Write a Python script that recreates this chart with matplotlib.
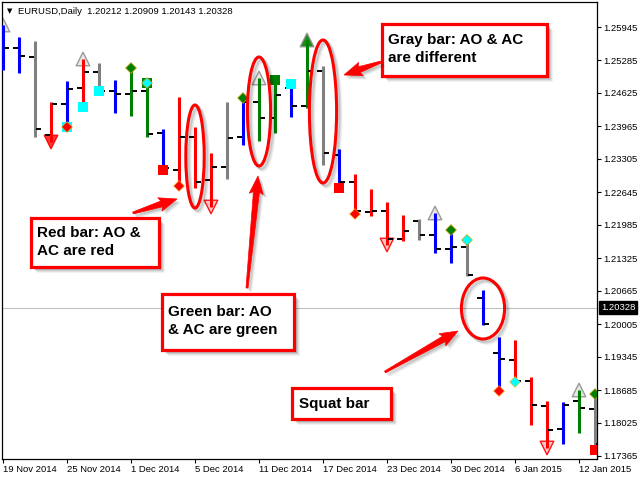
import matplotlib
matplotlib.use('Agg')
import matplotlib.pyplot as plt
from matplotlib.patches import Ellipse, Rectangle, Polygon
from matplotlib.transforms import blended_transform_factory
import numpy as np

# ---------------- data ----------------
tick_labels = ["19 Nov 2014", "25 Nov 2014", "1 Dec 2014", "5 Dec 2014", "11 Dec 2014",
               "17 Dec 2014", "23 Dec 2014", "30 Dec 2014", "6 Jan 2015", "12 Jan 2015"]
tick_bars = [0, 4, 8, 12, 16, 20, 24, 28, 32, 36]

opens = [1.25685, 1.25525, 1.25345, 1.23785, 1.24405, 1.24725, 1.25045, 1.24665, 1.24605, 1.24665,
         1.23825, 1.23085, 1.23745, 1.22885, 1.23145, 1.23745, 1.24445, 1.24125, 1.24725, 1.24365,
         1.25065, 1.23385, 1.22845, 1.22245, 1.22265, 1.21705, 1.22065, 1.21785, 1.21505, 1.21545,
         1.20525, 1.19425, 1.19285, 1.18865, 1.18365, 1.17905, 1.18465, 1.18305]
highs = [1.25985, 1.25745, 1.25665, 1.24445, 1.24865, 1.25305, 1.25225, 1.24885, 1.25125, 1.24825,
         1.23905, 1.24545, 1.23945, 1.23425, 1.24445, 1.24525, 1.24925, 1.24885, 1.24805, 1.25685,
         1.25165, 1.23505, 1.23005, 1.22705, 1.22445, 1.22185, 1.22105, 1.22225, 1.21885, 1.21685,
         1.20685, 1.19745, 1.19685, 1.18945, 1.18465, 1.18445, 1.18685, 1.18605]
lows = [1.25085, 1.25025, 1.23745, 1.23645, 1.23945, 1.24345, 1.24665, 1.24225, 1.24165, 1.23745,
        1.23085, 1.22765, 1.22725, 1.22345, 1.22905, 1.23585, 1.23665, 1.23825, 1.24145, 1.24325,
        1.23185, 1.22725, 1.22205, 1.22165, 1.21585, 1.21665, 1.21685, 1.21425, 1.21225, 1.20965,
        1.19985, 1.18665, 1.18845, 1.17985, 1.17525, 1.17605, 1.17825, 1.17485]
closes = [1.25525, 1.25365, 1.23905, 1.24405, 1.24705, 1.25045, 1.24665, 1.24605, 1.24665, 1.23805,
          1.23125, 1.23745, 1.22845, 1.23145, 1.23725, 1.24445, 1.24125, 1.24585, 1.24365, 1.25065,
          1.23425, 1.22845, 1.22265, 1.22265, 1.21705, 1.21865, 1.21785, 1.21505, 1.21545, 1.20985,
          1.20005, 1.19305, 1.18865, 1.18385, 1.17885, 1.18385, 1.18325, 1.17600]
bar_colors = ['blue', 'blue', 'gray', 'red', 'blue', 'red', 'gray', 'blue', 'green', 'green',
              'blue', 'red', 'red', 'red', 'gray', 'blue', 'green', 'green', 'blue', 'green',
              'gray', 'blue', 'red', 'red', 'red', 'red', 'gray', 'blue', 'blue', 'gray',
              'blue', 'blue', 'red', 'red', 'red', 'blue', 'green', 'gray']

up_fractals = [0, 5, 16, 19, 27, 36]
up_fractal_fill = ['#e6e6e6', '#e6e6e6', '#e6e6e6', '#008000', '#e6e6e6', '#e6e6e6']
down_fractals = [3, 13, 24, 34]
down_fractal_fill = ['#ff2020', '#ffc0c0', '#ffc0c0', '#ffc0c0']

high_squares = [9, 17, 18]
high_square_colors = ['green', 'green', 'cyan']
low_squares = [4, 5, 6, 10, 21, 37]
low_square_colors = ['cyan', 'cyan', 'cyan', 'red', 'red', 'red']
high_diamonds = [8, 9, 15, 28, 29, 37]
high_diamond_colors = ['green', 'cyan', 'green', 'green', 'cyan', 'green']
low_diamonds = [4, 11, 22, 31, 32]
low_diamond_colors = ['red', 'red', 'red', 'red', 'cyan']

y_ticks = [1.25945, 1.25285, 1.24625, 1.23965, 1.23305, 1.22645, 1.21985, 1.21325,
           1.20665, 1.20005, 1.19345, 1.18685, 1.18025, 1.17365]
current_price = 1.20328
header = "EURUSD,Daily  1.20212 1.20909 1.20143 1.20328"

ellipse_bars = [12, 16, 20, 30]
ellipse_centers = [1.23355, 1.24255, 1.24255, 1.20315]

# ---------------- style ----------------
cmap = {'blue': '#0000ff', 'gray': '#808080', 'red': '#ff0000', 'green': '#008000', 'cyan': '#00ffff'}
FONT = 'Liberation Sans'
plt.rcParams['font.family'] = [FONT, 'DejaVu Sans']

fig = plt.figure(figsize=(6.4, 4.8), dpi=100)
ax = fig.add_axes([2/640, 21/480, 595/640, 457/480])
ax.set_xlim(-1/16, 594/16)
ax.set_ylim(1.17305, 1.26445)

x = np.arange(len(opens))
cols = [cmap[c] for c in bar_colors]

ax.axhline(current_price, color='#c0c0c0', lw=0.8, zorder=1)
ax.vlines(x, lows, highs, colors=cols, lw=2.2, zorder=3)
ax.hlines(opens, x - 0.36, x - 0.08, colors='black', lw=1.4, zorder=3)
ax.hlines(closes, x + 0.08, x + 0.36, colors='black', lw=1.4, zorder=3)

# squares & diamonds
ax.scatter(high_squares, [highs[i] for i in high_squares], marker='s', s=46,
           c=[cmap[c] for c in high_square_colors], zorder=4, linewidths=0)
ax.scatter(low_squares, [lows[i] for i in low_squares], marker='s', s=46,
           c=[cmap[c] for c in low_square_colors], zorder=4, linewidths=0)
ax.scatter(high_diamonds, [highs[i] for i in high_diamonds], marker='D', s=30,
           c=[cmap[c] for c in high_diamond_colors], edgecolors='#c8a000', linewidths=0.5, zorder=5)
ax.scatter(low_diamonds, [lows[i] for i in low_diamonds], marker='D', s=30,
           c=[cmap[c] for c in low_diamond_colors], edgecolors='#ffb000', linewidths=0.4, zorder=5)

# fractal arrows
ax.scatter(up_fractals, [highs[i] for i in up_fractals], marker='^', s=95,
           c=up_fractal_fill, edgecolors='#909090', linewidths=1.0, zorder=2, alpha=0.9)
ax.scatter(down_fractals, [lows[i] for i in down_fractals], marker='v', s=95,
           c=down_fractal_fill, edgecolors='#ff0000', linewidths=1.0, zorder=2, alpha=0.9)

# ellipses (with soft shadow)
ew = [1.15, 1.45, 1.7, 2.7]
eh = [0.0206, 0.0218, 0.0286, 0.0122]
for b, cy, w, h in zip(ellipse_bars, ellipse_centers, ew, eh):
    for d, a in [(4, 0.06), (3, 0.08), (2, 0.1)]:
        ax.add_patch(Ellipse((b + d/16, cy - d*0.0002), w, h, fill=False,
                             ec='black', lw=2.6, alpha=a, zorder=6))
    ax.add_patch(Ellipse((b, cy), w, h, fill=False, ec='#ff0000', lw=2.2, zorder=7))

# axes styling
for s in ax.spines.values():
    s.set_color('black')
    s.set_linewidth(0.9)
ax.yaxis.tick_right()
ax.set_yticks(y_ticks)
ax.set_yticklabels([f"{v:.5f}" for v in y_ticks])
ax.tick_params(axis='y', direction='out', length=3, width=0.8, labelsize=6.8, pad=1.5)
ax.set_xticks(tick_bars)
ax.set_xticklabels(tick_labels)
ax.tick_params(axis='x', direction='out', length=3, width=0.8, labelsize=6.8, pad=1.5)
for lbl in ax.get_xticklabels():
    lbl.set_ha('left')

tr = blended_transform_factory(ax.transAxes, ax.transData)
ax.text(1 + 4/595, current_price, f"{current_price:.5f}", transform=tr, ha='left', va='center',
        color='white', fontsize=6.8, zorder=10,
        bbox=dict(boxstyle='square,pad=0.22', fc='black', ec='black'))

# ---------------- overlay (pixel coords) ----------------
ov = fig.add_axes([0, 0, 1, 1], zorder=10)
ov.set_xlim(0, 640)
ov.set_ylim(480, 0)
ov.axis('off')
ov.patch.set_alpha(0)

ov.text(7, 11, "\u25BC", fontsize=5, va='center', ha='left', color='black', family='DejaVu Sans')
ov.text(18, 11, header, fontsize=6.8, va='center', ha='left', color='black')


def box(x0, y0, x1, y1, text, tx, ty):
    w, h = x1 - x0, y1 - y0
    for d, a in [(6, 0.05), (5, 0.07), (4, 0.09), (3, 0.11)]:
        ov.add_patch(Rectangle((x0 + d, y0 + d), w, h, fc='black', ec='none', alpha=a))
    ov.add_patch(Rectangle((x0, y0), w, h, fc='white', ec='#ff0000', lw=2.3))
    ov.text(tx, ty, text, fontsize=11, va='top', ha='left', color='black',
            linespacing=1.4, fontweight='bold')


def arrow(x0, y0, x1, y1, hl=16, hw=14, tail=1.0, neck=3.0, shadow=True):
    d = np.array([x1 - x0, y1 - y0], float)
    L = np.hypot(*d)
    u = d / L
    n = np.array([-u[1], u[0]])
    p0 = np.array([x0, y0], float)
    tip = np.array([x1, y1], float)
    base = tip - u * hl
    pts = [p0 + n*tail, base + n*neck, base + n*hw/2 - u*2, tip,
           base - n*hw/2 - u*2, base - n*neck, p0 - n*tail]
    if shadow:
        for s, a in [(4, 0.07), (3, 0.09), (2, 0.1)]:
            ov.add_patch(Polygon([p + np.array([s, s]) for p in pts], closed=True,
                                 fc='black', ec='none', alpha=a))
    ov.add_patch(Polygon(pts, closed=True, fc='#ff0000', ec='#ff0000', lw=0.5))


box(382, 24, 547, 76, "Gray bar: AO & AC\nare different", 388, 33)
box(31, 218, 159, 267, "Red bar: AO &\nAC are red", 37, 226)
box(162, 294, 294, 350, "Green bar: AO\n& AC are green", 168, 305)
box(292, 388, 391, 419, "Squat bar", 299, 397)

arrow(381, 62, 344, 75)
arrow(133, 213, 177, 199)
arrow(247, 288, 258, 176)
arrow(385, 372, 458, 331)

fig.savefig('out.png', dpi=100)
